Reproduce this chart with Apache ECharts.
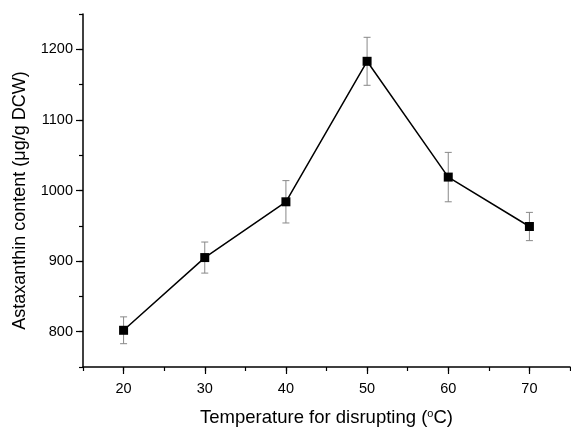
<!DOCTYPE html>
<html>
<head>
<meta charset="utf-8">
<script src="https://cdn.jsdelivr.net/npm/echarts@6/dist/echarts.min.js"></script>
<style>
html,body{margin:0;padding:0;background:#fff;}
#c{width:571px;height:427px;}
</style>
</head>
<body>
<div id="c"></div>
<script>
var temperatures = [20, 30, 40, 50, 60, 70];
var astaxanthin = [802, 905, 984, 1183, 1019, 949];
var errors = [19, 22, 30, 34, 35, 20];
var yTickLabels = [800, 900, 1000, 1100, 1200];
var xTickLabels = [20, 30, 40, 50, 60, 70];

var lineData = temperatures.map(function (t, i) { return [t, astaxanthin[i]]; });
var errData = temperatures.map(function (t, i) { return [t, astaxanthin[i] - errors[i], astaxanthin[i] + errors[i]]; });

var chart = echarts.init(document.getElementById('c'));
var font = 'Arial, "Liberation Sans", sans-serif';
var tickStyle = { color: '#000', width: 1.2 };
chart.setOption({
  backgroundColor: '#ffffff',
  animation: false,
  grid: { left: 83, right: 1, top: 14, bottom: 60, containLabel: false, outerBoundsMode: 'none' },
  xAxis: [{
    type: 'value', min: 15, max: 75, interval: 5,
    name: 'Temperature for disrupting ({sup|o}C)',
    nameLocation: 'middle', nameGap: 41,
    nameTextStyle: { fontFamily: font, fontSize: 18.5, color: '#000',
      rich: { sup: { fontSize: 11, verticalAlign: 'top', padding: [0,0,9,0], fontFamily: font, color: '#000' } } },
    axisLine: { lineStyle: { color: '#000', width: 1.5 } },
    axisTick: { inside: false, length: 4, lineStyle: tickStyle },
    axisLabel: { fontFamily: font, fontSize: 14.5, color: '#000', margin: 14,
      formatter: function (v) { return xTickLabels.indexOf(v) >= 0 ? String(v) : ''; } },
    splitLine: { show: false }
  }, {
    type: 'value', min: 15, max: 75, position: 'bottom',
    axisLine: { show: false },
    axisTick: { show: true, inside: false, length: 7, lineStyle: tickStyle, customValues: xTickLabels },
    axisLabel: { show: false },
    splitLine: { show: false }
  }],
  yAxis: [{
    type: 'value', min: 750, max: 1250, interval: 50,
    name: 'Astaxanthin content (μg/g DCW)',
    nameLocation: 'middle', nameGap: 54,
    nameTextStyle: { fontFamily: font, fontSize: 18, color: '#000', padding: [0, 20, 0, 0] },
    axisLine: { show: true, lineStyle: { color: '#000', width: 1.5 } },
    axisTick: { show: true, inside: false, length: 4, lineStyle: tickStyle },
    axisLabel: { fontFamily: font, fontSize: 14.5, color: '#000', margin: 10,
      formatter: function (v) { return yTickLabels.indexOf(v) >= 0 ? String(v) : ''; } },
    splitLine: { show: false }
  }, {
    type: 'value', min: 750, max: 1250, position: 'left',
    axisLine: { show: false },
    axisTick: { show: true, inside: false, length: 7, lineStyle: tickStyle, customValues: yTickLabels },
    axisLabel: { show: false },
    splitLine: { show: false }
  }],
  series: [
    {
      type: 'custom',
      z: 1,
      data: errData,
      renderItem: function (params, api) {
        var x = api.value(0);
        var lo = api.coord([x, api.value(1)]);
        var hi = api.coord([x, api.value(2)]);
        var hw = 3.5;
        var st = { stroke: '#888888', lineWidth: 1 };
        return { type: 'group', children: [
          { type: 'line', shape: { x1: lo[0], y1: lo[1], x2: hi[0], y2: hi[1] }, style: st },
          { type: 'line', shape: { x1: lo[0]-hw, y1: lo[1], x2: lo[0]+hw, y2: lo[1] }, style: st },
          { type: 'line', shape: { x1: hi[0]-hw, y1: hi[1], x2: hi[0]+hw, y2: hi[1] }, style: st }
        ]};
      }
    },
    {
      type: 'line',
      z: 3,
      data: lineData,
      symbol: 'rect', symbolSize: 9,
      itemStyle: { color: '#000' },
      lineStyle: { color: '#000', width: 1.5 }
    }
  ]
});
</script>
</body>
</html>
